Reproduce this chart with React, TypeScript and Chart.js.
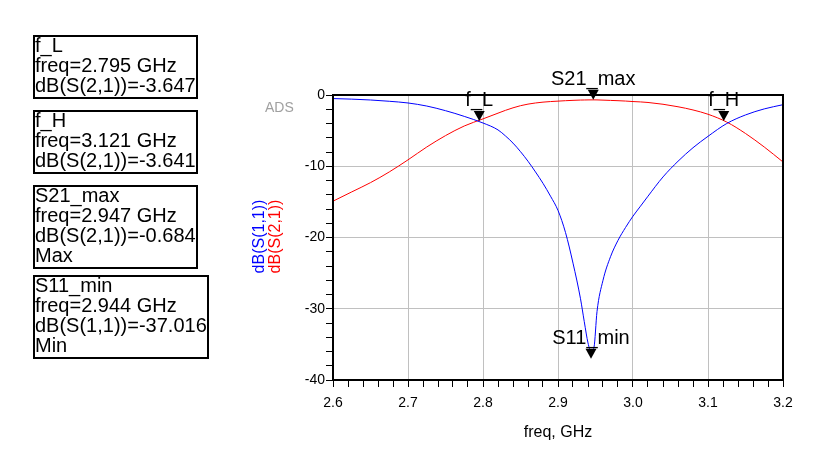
import { useEffect, useRef } from 'react';
import { Chart, registerables } from 'chart.js';

Chart.register(...registerables);

// sweep points, GHz
const freqGHz = [
  2.6, 2.625, 2.65, 2.675, 2.7, 2.725, 2.75, 2.775, 2.8, 2.82, 2.83, 2.84, 2.85, 2.86, 2.87, 2.88,
  2.89, 2.9, 2.91, 2.92, 2.93, 2.935, 2.94, 2.944, 2.948, 2.952, 2.96, 2.97, 2.98, 2.99, 3.0, 3.01,
  3.02, 3.04, 3.06, 3.08, 3.1, 3.125, 3.15, 3.175, 3.2,
];

// dB(S(1,1))
const s11dB = [
  -0.5, -0.58, -0.7, -0.88, -1.12, -1.55, -2.2, -3.0, -3.93, -4.9, -5.75, -6.75, -7.95, -9.3, -10.8, -12.4,
  -14.2, -16.2, -19.3, -23.6, -28.6, -31.8, -34.8, -36.0, -35.4, -30.4, -26.0, -22.7, -20.4, -18.6, -17.0, -15.6,
  -14.2, -11.5, -9.3, -7.4, -5.8, -4.0, -2.8, -1.95, -1.36,
];

// dB(S(2,1))
const s21dB = [
  -14.9, -13.6, -12.3, -10.8, -9.1, -7.3, -5.7, -4.35, -3.35, -2.55, -2.15, -1.8, -1.5, -1.28, -1.12, -1.0,
  -0.92, -0.86, -0.8, -0.75, -0.71, -0.7, -0.69, -0.685, -0.684, -0.69, -0.72, -0.76, -0.8, -0.85, -0.92, -0.97,
  -1.05, -1.3, -1.65, -2.1, -2.7, -3.8, -5.4, -7.3, -9.4,
];

const markerNames = ['f_L', 'f_H', 'S21_max', 'S11_min'];
const markerFreqs = [2.795, 3.121, 2.947, 2.944];
const markerValues = [-3.647, -3.641, -0.684, -37.016];
const markerTraces = ['dB(S(2,1))', 'dB(S(2,1))', 'dB(S(2,1))', 'dB(S(1,1))'];
const markerModes = ['', '', 'Max', 'Min'];

const FONT = '"Liberation Sans", Arial, sans-serif';

const isMultiple = (v: number, step: number) => Math.abs(v / step - Math.round(v / step)) < 1e-6;

const adsOverlay = {
  id: 'adsOverlay',
  afterDraw(chart: any) {
    const { ctx, chartArea: a, scales } = chart;
    const x = scales.x;
    const y = scales.y;
    ctx.save();

    ctx.strokeStyle = '#000';
    ctx.lineWidth = 2;
    ctx.strokeRect(a.left, a.top, a.right - a.left, a.bottom - a.top);

    // markers
    markerNames.forEach((name, i) => {
      const px = x.getPixelForValue(markerFreqs[i]);
      const py = y.getPixelForValue(markerValues[i]);
      ctx.fillStyle = '#000';
      ctx.beginPath();
      ctx.moveTo(px - 5.5, py - 10);
      ctx.lineTo(px + 5.5, py - 10);
      ctx.lineTo(px, py);
      ctx.closePath();
      ctx.fill();
      ctx.font = '20px ' + FONT;
      ctx.textAlign = 'center';
      ctx.textBaseline = 'alphabetic';
      ctx.fillText(name, px, py - 14.5);
    });

    // watermark
    ctx.font = '14px ' + FONT;
    ctx.fillStyle = '#a0a0a0';
    ctx.textAlign = 'left';
    ctx.fillText('ADS', 265, 111.5);

    // x title
    ctx.font = '16px ' + FONT;
    ctx.fillStyle = '#000';
    ctx.textAlign = 'center';
    ctx.fillText('freq, GHz', (a.left + a.right) / 2, 437);

    // y titles, rotated
    ctx.translate(264, 236.5);
    ctx.rotate(-Math.PI / 2);
    ctx.fillStyle = '#0000ff';
    ctx.fillText('dB(S(1,1))', 0, 0);
    ctx.fillStyle = '#ff0000';
    ctx.fillText('dB(S(2,1))', 0, 15.5);
    ctx.restore();
  },
};

function MarkerBox({ lines, top, width, height }: { lines: string[]; top: number; width: number; height: number }) {
  return (
    <div
      style={{
        position: 'absolute',
        left: 33,
        top,
        width,
        height,
        boxSizing: 'border-box',
        border: '2px solid #000',
        fontFamily: FONT,
        fontSize: 20,
        lineHeight: '20px',
        whiteSpace: 'nowrap',
        color: '#000',
        background: '#fff',
      }}
    >
      <div style={{ marginTop: -2 }}>
        {lines.map((l, k) => (
          <div key={k}>{l}</div>
        ))}
      </div>
    </div>
  );
}

export default function App() {
  const canvasRef = useRef<HTMLCanvasElement>(null);
  const chartRef = useRef<Chart | null>(null);

  useEffect(() => {
    if (!canvasRef.current) return;
    if (chartRef.current) chartRef.current.destroy();

    chartRef.current = new Chart(canvasRef.current, {
      type: 'line',
      data: {
        datasets: [
          {
            label: 'dB(S(1,1))',
            data: freqGHz.map((f, i) => ({ x: f, y: s11dB[i] })),
            borderColor: '#0000ff',
            borderWidth: 1,
            pointRadius: 0,
            cubicInterpolationMode: 'monotone',
          },
          {
            label: 'dB(S(2,1))',
            data: freqGHz.map((f, i) => ({ x: f, y: s21dB[i] })),
            borderColor: '#ff0000',
            borderWidth: 1,
            pointRadius: 0,
            cubicInterpolationMode: 'monotone',
          },
        ],
      },
      options: {
        responsive: false,
        animation: false,
        layout: { padding: { left: 0, top: 95, right: 50, bottom: 0 } },
        plugins: { legend: { display: false }, tooltip: { enabled: false } },
        scales: {
          x: {
            type: 'linear',
            min: 2.6,
            max: 3.2,
            afterFit: (s: any) => {
              s.height = 73;
            },
            ticks: {
              stepSize: 0.02,
              autoSkip: false,
              maxRotation: 0,
              minRotation: 0,
              padding: 8,
              color: '#000',
              font: { family: FONT, size: 14 },
              callback: (v: any) => (isMultiple(Number(v), 0.1) ? Number(v).toFixed(1) : ''),
            },
            grid: {
              color: (c: any) => (c.tick && isMultiple(c.tick.value, 0.1) ? '#c0c0c0' : 'rgba(0,0,0,0)'),
              tickColor: '#000',
              tickLength: 7,
              lineWidth: 1,
            },
            border: { color: '#000', width: 2 },
          },
          y: {
            type: 'linear',
            min: -40,
            max: 0,
            afterFit: (s: any) => {
              s.width = 333;
            },
            ticks: {
              stepSize: 2,
              autoSkip: false,
              padding: 1,
              color: '#000',
              font: { family: FONT, size: 14 },
              callback: (v: any) => (isMultiple(Number(v), 10) ? String(Math.round(Number(v))) : ''),
            },
            grid: {
              color: (c: any) => (c.tick && isMultiple(c.tick.value, 10) ? '#c0c0c0' : 'rgba(0,0,0,0)'),
              tickColor: '#000',
              tickLength: 7,
              lineWidth: 1,
            },
            border: { color: '#000', width: 2 },
          },
        },
      },
      plugins: [adsOverlay],
    });

    return () => {
      if (chartRef.current) {
        chartRef.current.destroy();
        chartRef.current = null;
      }
    };
  }, []);

  const boxTops = [35, 110, 185, 275];
  const boxWidths = [165, 165, 165, 176];

  return (
    <div style={{ position: 'absolute', left: 0, top: 0, width: 833, height: 453, background: '#fff' }}>
      <canvas ref={canvasRef} width={833} height={453} style={{ position: 'absolute', left: 0, top: 0 }} />
      {markerNames.map((name, i) => {
        const lines = [
          name,
          `freq=${markerFreqs[i].toFixed(3)} GHz`,
          `${markerTraces[i]}=${markerValues[i].toFixed(3)}`,
        ];
        if (markerModes[i]) lines.push(markerModes[i]);
        return (
          <MarkerBox
            key={name}
            lines={lines}
            top={boxTops[i]}
            width={boxWidths[i]}
            height={lines.length === 4 ? 84 : 64}
          />
        );
      })}
    </div>
  );
}
